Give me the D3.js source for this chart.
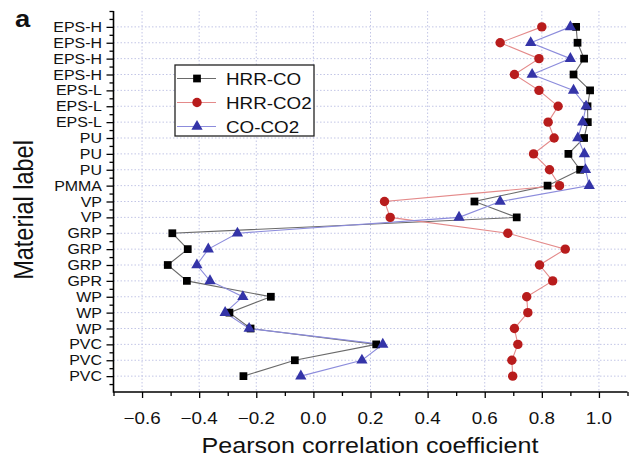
<!DOCTYPE html>
<html>
<head>
<meta charset="utf-8">
<script src="https://cdn.jsdelivr.net/npm/d3@7"></script>
<style>
  html, body { margin: 0; padding: 0; background: #fff; }
  svg { display: block; font-family: "Liberation Sans", Arial, sans-serif; }
</style>
</head>
<body>
<svg id="chart" width="637" height="458"></svg>
<script>
// material labels, top to bottom
const labels = ['EPS-H', 'EPS-H', 'EPS-H', 'EPS-H', 'EPS-L', 'EPS-L', 'EPS-L',
  'PU', 'PU', 'PU', 'PMMA', 'VP', 'VP', 'GRP', 'GRP', 'GRP', 'GPR',
  'WP', 'WP', 'WP', 'PVC', 'PVC', 'PVC'];

const hrrCO = [0.92, 0.925, 0.948, 0.911, 0.969, 0.96, 0.961, 0.948, 0.893, 0.934,
  0.82, 0.564, 0.712, -0.494, -0.44, -0.51, -0.443, -0.149, -0.294, -0.22,
  0.22, -0.065, -0.245];
const hrrCO2 = [0.80, 0.654, 0.79, 0.704, 0.79, 0.857, 0.822, 0.843, 0.771, 0.827,
  0.862, 0.249, 0.269, 0.681, 0.882, 0.792, 0.838, 0.747, 0.751, 0.704,
  0.716, 0.695, 0.698];
const coCO2 = [0.90, 0.761, 0.90, 0.766, 0.911, 0.955, 0.943, 0.926, 0.949, 0.953,
  0.966, 0.654, 0.51, -0.266, -0.368, -0.408, -0.362, -0.247, -0.309, -0.225,
  0.243, 0.17, -0.044];

const xTicks = [-0.6, -0.4, -0.2, 0.0, 0.2, 0.4, 0.6, 0.8, 1.0];
const xMinor = [-0.7, -0.5, -0.3, -0.1, 0.1, 0.3, 0.5, 0.7, 0.9, 1.1];

const series = [
  { name: 'HRR-CO', values: hrrCO, line: '#6a6a6a', fill: '#000', shape: d3.symbolSquare, size: 60 },
  { name: 'HRR-CO2', values: hrrCO2, line: '#e48a8a', fill: '#b81c1c', shape: d3.symbolCircle, size: 70 },
  { name: 'CO-CO2', values: coCO2, line: '#8c8cdc', fill: '#3434a8', shape: d3.symbolTriangle, size: 55 },
];

// the source picture is stretched sideways a little
const SX = 1.14;

const svg = d3.select('#chart');
const x = d3.scaleLinear().domain([-0.7, 1.1]).range([113.5, 627.5]);
const y = d3.scaleLinear().domain([0, 24]).range([11, 392]);
const rows = d3.range(1, labels.length + 1);

function stretchText(g, px, py, str, size, anchor) {
  return g.append('text')
    .attr('transform', `translate(${px},${py}) scale(${SX},1)`)
    .attr('text-anchor', anchor)
    .attr('font-size', size)
    .attr('fill', '#111')
    .text(str);
}

// grid
const grid = svg.append('g')
  .attr('stroke', '#c3c6e6')
  .attr('stroke-width', 1)
  .attr('stroke-dasharray', '1.5,2');
grid.selectAll('.h').data(rows).join('line')
  .attr('x1', x(-0.7)).attr('x2', x(1.1))
  .attr('y1', d => y(d)).attr('y2', d => y(d));
grid.selectAll('.v').data(xTicks).join('line')
  .attr('x1', d => x(d)).attr('x2', d => x(d))
  .attr('y1', y(0)).attr('y2', y(24));

// axes
function styleAxis(g) {
  g.select('.domain').remove();
  g.selectAll('line').attr('stroke', '#000').attr('stroke-width', 1.3);
}
svg.append('g').attr('transform', 'translate(113.5,0)')
  .call(d3.axisLeft(y).tickValues(rows).tickSize(7).tickFormat(''))
  .call(styleAxis);
svg.append('g').attr('transform', 'translate(113.5,0)')
  .call(d3.axisLeft(y).tickValues(d3.range(0, 24, 0.5).filter(v => v % 1 !== 0 || v === 0))
    .tickSize(4).tickFormat(''))
  .call(styleAxis);
svg.append('g').attr('transform', 'translate(0,392)')
  .call(d3.axisBottom(x).tickValues(xTicks).tickSize(6).tickFormat(''))
  .call(styleAxis);
svg.append('g').attr('transform', 'translate(0,392)')
  .call(d3.axisBottom(x).tickValues(xMinor).tickSize(4).tickFormat(''))
  .call(styleAxis);

svg.append('path')
  .attr('d', `M${x(-0.7)},${y(0)}V${y(24)}H${x(1.1)}`)
  .attr('fill', 'none')
  .attr('stroke', '#000')
  .attr('stroke-width', 1.6);

// tick labels
const labelG = svg.append('g');
labels.forEach((lab, i) => {
  stretchText(labelG, 102, y(i + 1) + 5, lab, 14, 'end');
});
const fmt = d3.format('.1f');
xTicks.forEach(v => {
  stretchText(labelG, x(v), 424, fmt(v).replace('-', '\u2212'), 16.5, 'middle');
});

// axis titles
stretchText(svg, 370, 453, 'Pearson correlation coefficient', 22, 'middle');
svg.append('text')
  .attr('transform', `translate(33,210) scale(${SX},1) rotate(-90)`)
  .attr('text-anchor', 'middle')
  .attr('font-size', 23.5)
  .attr('fill', '#111')
  .text('Material label');
stretchText(svg, 15, 27, 'a', 24, 'start').attr('font-weight', 'bold');

// series lines then markers
const line = d3.line()
  .x(d => x(d))
  .y((d, i) => y(i + 1));

series.forEach(s => {
  svg.append('path')
    .datum(s.values)
    .attr('d', line)
    .attr('fill', 'none')
    .attr('stroke', s.line)
    .attr('stroke-width', 1.1);
});
series.forEach(s => {
  svg.append('g').selectAll('path')
    .data(s.values)
    .join('path')
    .attr('transform', (d, i) => `translate(${x(d)},${y(i + 1)})`)
    .attr('d', d3.symbol().type(s.shape).size(s.size))
    .attr('fill', s.fill);
});

// legend
const legend = svg.append('g');
legend.append('rect')
  .attr('x', 175).attr('y', 65)
  .attr('width', 139).attr('height', 71)
  .attr('fill', '#fff')
  .attr('stroke', '#222')
  .attr('stroke-width', 1.3);
series.forEach((s, i) => {
  const ly = 78.5 + i * 24;
  legend.append('line')
    .attr('x1', 177).attr('x2', 216)
    .attr('y1', ly).attr('y2', ly)
    .attr('stroke', s.line)
    .attr('stroke-width', 1.1);
  legend.append('path')
    .attr('transform', `translate(197,${ly})`)
    .attr('d', d3.symbol().type(s.shape).size(s.size))
    .attr('fill', s.fill);
  stretchText(legend, 226, ly + 6, s.name, 16.5, 'start');
});
</script>
</body>
</html>
